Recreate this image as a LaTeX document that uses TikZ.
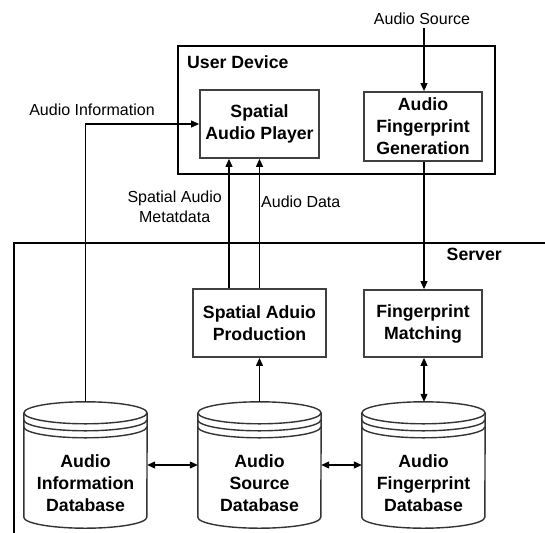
\documentclass[tikz,border=0pt]{standalone}
\usepackage{fontspec}
\setmainfont{Liberation Sans}
\usetikzlibrary{arrows.meta,calc}
\newcommand\dbdraw[1]{%
  \draw[dbline,fill=white] ($(#1.north west)+(0,11)$) -- ($(#1.south west)+(0,-11)$)
     arc[start angle=180,end angle=360,x radius=61.5pt,y radius=11pt] -- ($(#1.north east)+(0,11)$);
  \draw[dbline] ($(#1.north)+(0,11)$) ellipse[x radius=61.5pt,y radius=11pt];
  \draw[dbline] ($(#1.north west)+(0,18)$) arc[start angle=180,end angle=360,x radius=61.5pt,y radius=11pt];
  \draw[dbline] ($(#1.north west)+(0,25)$) arc[start angle=180,end angle=360,x radius=61.5pt,y radius=11pt];
}
\begin{document}
\begin{tikzpicture}[x=1pt,y=-1pt,
  outerbox/.style={draw=black,line width=2pt,inner sep=0pt},
  innerbox/.style={draw=black!75,line width=1.8pt,inner sep=0pt,fill=white,
     font=\fontsize{17.7}{22}\selectfont\bfseries,align=center},
  dbnode/.style={inner sep=0pt,minimum width=123pt,minimum height=126pt},
  dbline/.style={draw=black!80,line width=1.4pt},
  dbtext/.style={inner sep=0pt,font=\fontsize{17.7}{22}\selectfont\bfseries,align=center},
  boldlbl/.style={inner sep=0pt,font=\fontsize{17.7}{22}\selectfont\bfseries},
  lbl/.style={inner sep=0pt,font=\fontsize{16}{20}\selectfont,align=center},
  arr/.style={line width=1.1pt,-{Triangle[length=8pt,width=7pt]}},
  darr/.style={line width=1.1pt,{Triangle[length=8pt,width=7pt]}-{Triangle[length=8pt,width=7pt]}}]
\useasboundingbox (0,0) rectangle (545,532);
% server box (open to the right and bottom)
\node[outerbox,minimum width=560pt,minimum height=320pt,anchor=north west] (server) at (13,242) {};
\node[boldlbl,anchor=east] (serverlbl) at (502,254) {Server};
% user device
\node[outerbox,minimum width=317pt,minimum height=128pt,fill=white] (ud) at (336.5,110) {};
\node[boldlbl,anchor=west] (udlbl) at (187,62) {User Device};
\node[innerbox,minimum width=119pt,minimum height=68pt] (sap) at (259.5,124) {Spatial\\Audio Player};
\node[innerbox,minimum width=118pt,minimum height=69pt] (afg) at (423,126.5) {Audio\\Fingerprint\\Generation};
\node[lbl] (srclbl) at (422,19) {Audio Source};
\node[lbl] (infolbl) at (92,110) {Audio Information};
% server boxes
\node[innerbox,minimum width=133pt,minimum height=68pt] (sapr) at (259.5,323) {Spatial Aduio\\Production};
\node[innerbox,minimum width=118pt,minimum height=67pt] (fm) at (423,323.5) {Fingerprint\\Matching};
% databases
\node[dbnode] (infodb) at (85.5,465) {};
\node[dbnode] (srcdb) at (259.5,465) {};
\node[dbnode] (fpdb) at (423.5,465) {};
\dbdraw{infodb}
\dbdraw{srcdb}
\dbdraw{fpdb}
\node[dbtext] (infodbt) at (85.5,483) {Audio\\Information\\Database};
\node[dbtext] (srcdbt) at (259.5,483) {Audio\\Source\\Database};
\node[dbtext] (fpdbt) at (423.5,483) {Audio\\Fingerprint\\Database};
% labels of data arrows
\node[lbl,anchor=east] (metalbl) at (222,207) {Spatial Audio\\Metatdata};
\node[lbl,anchor=west] (datalbl) at (261,202) {Audio Data};
% connectors
\draw[arr] (srclbl.south) ++(2,3) -- (afg.north -| 424,0);
\draw[arr] (afg.south -| 424,0) -- (fm.north -| 424,0);
\draw[arr] (infodb.north) |- (sap.west);
\draw[arr] ($(sapr.north)+(-30.5,0)$) -- ($(sap.south)+(-30.5,0)$);
\draw[arr] (sapr.north) -- (sap.south);
\draw[arr] (srcdb.north) -- (sapr.south);
\draw[darr] (fm.south -| 424,0) -- (fpdb.north -| 424,0);
\draw[darr] (infodb.east) -- (srcdb.west);
\draw[darr] (srcdb.east) -- (fpdb.west);
\end{tikzpicture}
\end{document}
